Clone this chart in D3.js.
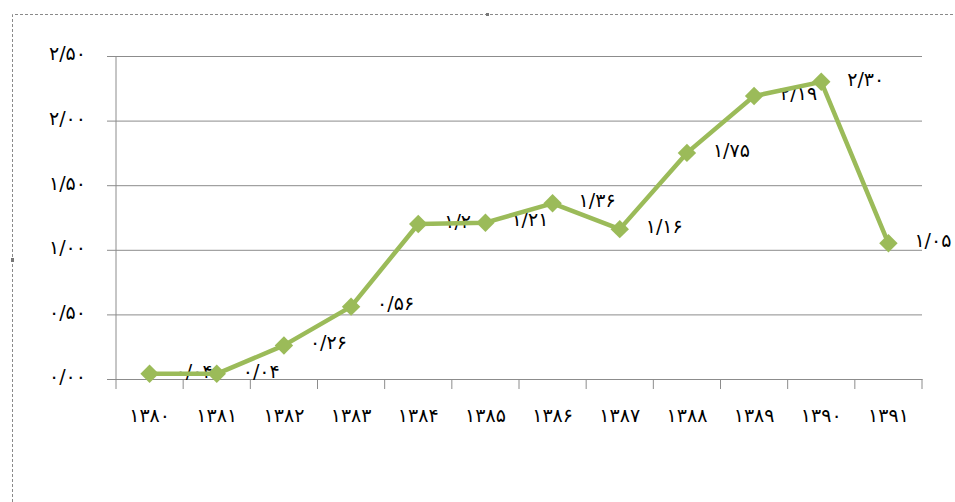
<!DOCTYPE html>
<html>
<head>
<meta charset="utf-8">
<script src="https://cdn.jsdelivr.net/npm/d3@7"></script>
<style>
  body { margin: 0; background: #fff; }
  svg { display: block; }
  text { font-family: "DejaVu Sans", sans-serif; fill: #000; }
</style>
</head>
<body>
<div id="chart"></div>
<script>
// years (solar hijri) and values
const years = ['۱۳۸۰', '۱۳۸۱', '۱۳۸۲', '۱۳۸۳', '۱۳۸۴', '۱۳۸۵', '۱۳۸۶', '۱۳۸۷', '۱۳۸۸', '۱۳۸۹', '۱۳۹۰', '۱۳۹۱']
const values = [0.04, 0.04, 0.26, 0.56, 1.20, 1.21, 1.36, 1.16, 1.75, 2.19, 2.30, 1.05]
const yTicks = [0, 0.5, 1, 1.5, 2, 2.5]
const yTickLabels = ['۰/۰۰', '۰/۵۰', '۱/۰۰', '۱/۵۰', '۲/۰۰', '۲/۵۰']

const width = 955
const height = 502
const margin = { top: 56, bottom: 123, left: 116, right: 33 }
const green = '#9bbb59'
const fs = 19

// latin number -> persian digits, "/" as decimal mark
const fa = v => v.toFixed(2).replace('.', '/').replace(/\d/g, d => '۰۱۲۳۴۵۶۷۸۹'[d])

const svg = d3.select('#chart')
    .append('svg')
    .attr('width', width)
    .attr('height', height)

// dashed frame of the embedded object
svg.append('path')
    .attr('d', 'M12.5,502 V14.5 H955')
    .attr('fill', 'none')
    .attr('stroke', '#8a8a8a')
    .attr('stroke-dasharray', '3,2')
svg.append('rect').attr('x', 486).attr('y', 13).attr('width', 3).attr('height', 3).attr('fill', '#777')
svg.append('rect').attr('x', 11).attr('y', 258).attr('width', 3).attr('height', 4).attr('fill', '#777')

const x = d3.scaleBand()
    .domain(years)
    .range([margin.left, width - margin.right])
    .padding(0)

const y = d3.scaleLinear()
    .domain([0, 2.5])
    .range([height - margin.bottom, margin.top])

// horizontal gridlines + y labels
const yAxis = g => g
    .attr('transform', `translate(${margin.left},0)`)
    .call(d3.axisLeft(y)
        .tickValues(yTicks)
        .tickFormat((d, i) => yTickLabels[i])
        .tickSize(-(width - margin.left - margin.right))
        .tickSizeOuter(0))
    .call(g => g.select('.domain').remove())
    .call(g => g.selectAll('.tick line')
        .attr('x1', -9)
        .attr('stroke', '#8c8c8c'))
    .call(g => g.selectAll('.tick text')
        .attr('x', -30)
        .attr('dy', '0.2em')
        .attr('font-size', fs)
        .attr('font-family', '"DejaVu Sans", sans-serif'))

svg.append('g').call(yAxis)

// vertical axis line
svg.append('line')
    .attr('x1', margin.left).attr('x2', margin.left)
    .attr('y1', y(2.5)).attr('y2', y(0))
    .attr('stroke', '#8c8c8c')

// x axis with ticks between categories
const xAxis = g => g
    .attr('transform', `translate(0,${y(0)})`)
    .call(d3.axisBottom(x).tickSize(0).tickPadding(30))
    .call(g => g.select('.domain').attr('stroke', '#8c8c8c'))
    .call(g => g.selectAll('.tick text')
        .attr('font-size', fs)
        .attr('font-family', '"DejaVu Sans", sans-serif'))

svg.append('g').call(xAxis)

svg.append('g')
    .selectAll('line')
    .data(years.concat(['end']))
    .join('line')
    .attr('x1', (d, i) => margin.left + i * x.bandwidth())
    .attr('x2', (d, i) => margin.left + i * x.bandwidth())
    .attr('y1', y(0))
    .attr('y2', y(0) + 10)
    .attr('stroke', '#8c8c8c')

const cx = d => x(d) + x.bandwidth() / 2

// data labels (sit beneath the line)
svg.append('g')
    .selectAll('text')
    .data(values)
    .join('text')
    .attr('x', (d, i) => cx(years[i]) + 26)
    .attr('y', d => y(d))
    .attr('dy', '0.2em')
    .attr('font-size', fs)
    .text(d => fa(d))

svg.append('path')
    .datum(values)
    .attr('fill', 'none')
    .attr('stroke', green)
    .attr('stroke-width', 4.5)
    .attr('stroke-linejoin', 'round')
    .attr('d', d3.line()
        .x((d, i) => cx(years[i]))
        .y(d => y(d)))

svg.append('g')
    .selectAll('path')
    .data(values)
    .join('path')
    .attr('d', d3.symbol(d3.symbolSquare, 170))
    .attr('transform', (d, i) => `translate(${cx(years[i])},${y(d)}) rotate(45)`)
    .attr('fill', green)
</script>
</body>
</html>
